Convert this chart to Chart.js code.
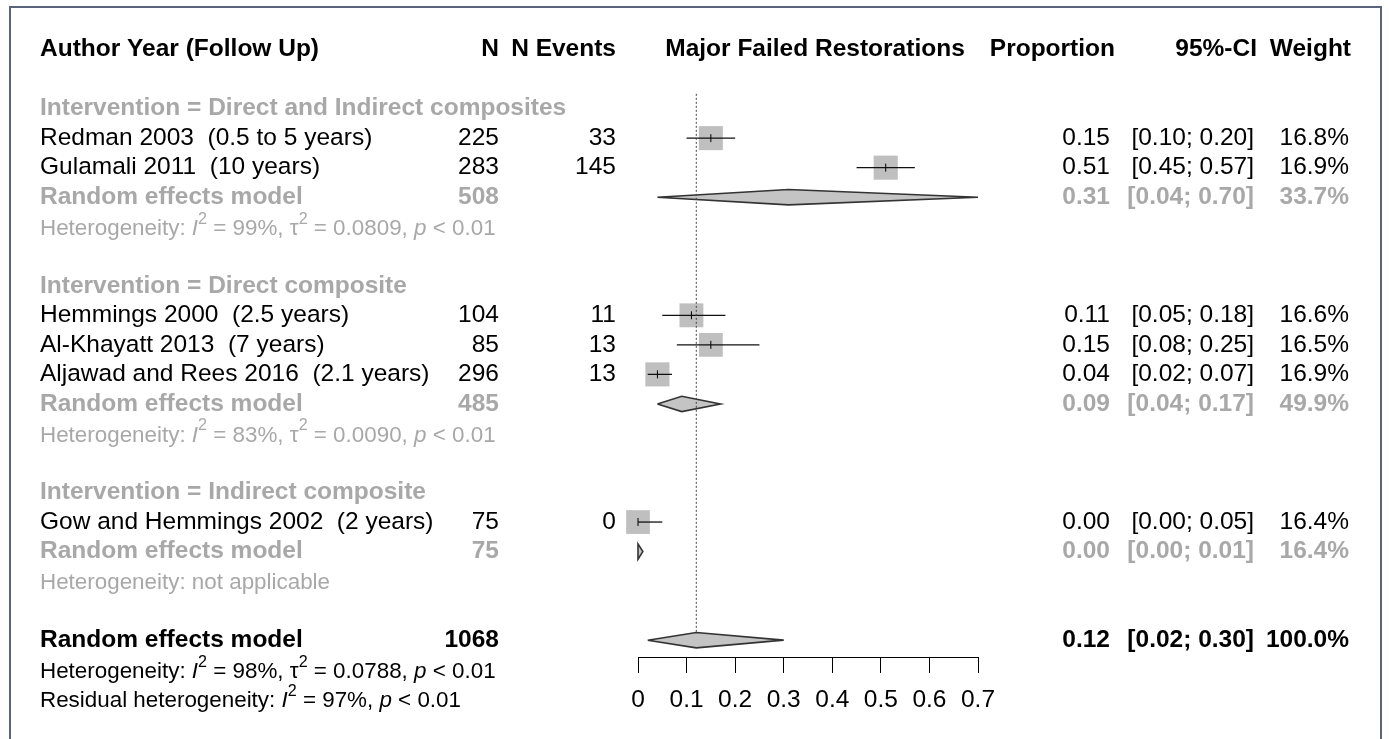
<!DOCTYPE html>
<html>
<head>
<meta charset="utf-8">
<script src="https://cdn.jsdelivr.net/npm/chart.js@4.4.1/dist/chart.umd.min.js"></script>
<style>
  html, body { margin: 0; padding: 0; background: #fff; }
  #wrap { position: relative; width: 1389px; height: 739px; }
</style>
</head>
<body>
<div id="wrap"><canvas id="forest" width="1389" height="739"></canvas></div>
<script>
// --- data ---
const studyLabels = ["Redman 2003  (0.5 to 5 years)", "Gulamali 2011  (10 years)", "Hemmings 2000  (2.5 years)",
  "Al-Khayatt 2013  (7 years)", "Aljawad and Rees 2016  (2.1 years)", "Gow and Hemmings 2002  (2 years)"];
const studyRows = [0, 1, 6, 7, 8, 13];
const studyN = [225, 283, 104, 85, 296, 75];
const studyEvents = [33, 145, 11, 13, 13, 0];
const studyEst = [0.15, 0.51, 0.11, 0.15, 0.04, 0.00];
const studyLower = [0.10, 0.45, 0.05, 0.08, 0.02, 0.00];
const studyUpper = [0.20, 0.57, 0.18, 0.25, 0.07, 0.05];
const studyWeight = [16.8, 16.9, 16.6, 16.5, 16.9, 16.4];

const groupLabels = ["Intervention = Direct and Indirect composites", "Intervention = Direct composite", "Intervention = Indirect composite"];
const groupRows = [-1, 5, 12];

const pooledRows = [2, 9, 14, 17];
const pooledN = [508, 485, 75, 1068];
const pooledEst = [0.31, 0.09, 0.00, 0.12];
const pooledLower = [0.04, 0.04, 0.00, 0.02];
const pooledUpper = [0.70, 0.17, 0.01, 0.30];
const pooledWeight = [33.7, 49.9, 16.4, 100.0];

const hetRows = [3, 10, 15, 18, 19];
const hetLines = [
  [["Heterogeneity: "], ["I", "it"], ["2", "sup"], [" = 99%, "], ["\u03C4"], ["2", "sup"], [" = 0.0809, "], ["p", "it"], [" < 0.01"]],
  [["Heterogeneity: "], ["I", "it"], ["2", "sup"], [" = 83%, "], ["\u03C4"], ["2", "sup"], [" = 0.0090, "], ["p", "it"], [" < 0.01"]],
  [["Heterogeneity: not applicable"]],
  [["Heterogeneity: "], ["I", "it"], ["2", "sup"], [" = 98%, "], ["\u03C4"], ["2", "sup"], [" = 0.0788, "], ["p", "it"], [" < 0.01"]],
  [["Residual heterogeneity: "], ["I", "it"], ["2", "sup"], [" = 97%, "], ["p", "it"], [" < 0.01"]]
];

const xTicks = [0, 0.1, 0.2, 0.3, 0.4, 0.5, 0.6, 0.7];
const xTickLabels = ["0", "0.1", "0.2", "0.3", "0.4", "0.5", "0.6", "0.7"];

// --- styling ---
const FONT = "'Liberation Sans', Arial, sans-serif";
const FS = 24.5;
const FS_HET = 22.4;
const GREY = "#a8a8a8";
const headerRow = -3;
const diamondH = 0.26;

const studyRadius = studyWeight.map(w => 17 * Math.sqrt(w / 16.8));

const datasets = [];

// dotted reference line at the overall estimate
datasets.push({
  type: "line",
  data: [{ x: pooledEst[3], y: -1.5 }, { x: pooledEst[3], y: pooledRows[3] - diamondH }],
  borderColor: "#444",
  borderWidth: 1,
  borderDash: [2, 2],
  pointRadius: 0,
  clip: false,
  order: 1
});

// point-estimate ticks
datasets.push({
  type: "scatter",
  data: studyEst.map((e, i) => ({ x: e, y: studyRows[i] })),
  pointStyle: "line",
  rotation: 90,
  pointRadius: 4,
  borderColor: "#000",
  borderWidth: 1,
  clip: false,
  order: 2
});

// confidence interval lines
studyRows.forEach((r, i) => {
  datasets.push({
    type: "line",
    data: [{ x: studyLower[i], y: r }, { x: studyUpper[i], y: r }],
    borderColor: "#111",
    borderWidth: 1.3,
    pointRadius: 0,
    clip: false,
    order: 3
  });
});

// pooled diamonds
pooledRows.forEach((r, i) => {
  datasets.push({
    type: "line",
    data: [
      { x: pooledLower[i], y: r },
      { x: pooledEst[i], y: r - diamondH },
      { x: pooledUpper[i], y: r },
      { x: pooledEst[i], y: r + diamondH },
      { x: pooledLower[i], y: r }
    ],
    fill: "shape",
    backgroundColor: "#c4c4c4",
    borderColor: "#333",
    borderWidth: 1.6,
    pointRadius: 0,
    tension: 0,
    clip: false,
    order: 4
  });
});

// study squares
datasets.push({
  type: "scatter",
  data: studyEst.map((e, i) => ({ x: e, y: studyRows[i] })),
  pointStyle: "rect",
  pointRadius: studyRadius,
  backgroundColor: "#bfbfbf",
  borderWidth: 0,
  clip: false,
  order: 5
});

function drawParts(ctx, x, y, parts, size, color) {
  let cx = x;
  ctx.fillStyle = color;
  ctx.textAlign = "left";
  ctx.textBaseline = "middle";
  parts.forEach(p => {
    const sup = p[1] === "sup";
    const s = sup ? size * 0.72 : size;
    ctx.font = (p[1] === "it" ? "italic " : "") + s + "px " + FONT;
    ctx.fillText(p[0], cx, sup ? y - size * 0.42 : y);
    cx += ctx.measureText(p[0]).width;
  });
}

function txt(ctx, s, x, y, align, bold, color, size) {
  ctx.font = (bold ? "bold " : "") + (size || FS) + "px " + FONT;
  ctx.fillStyle = color || "#000";
  ctx.textAlign = align;
  ctx.textBaseline = "middle";
  ctx.fillText(s, x, y);
}

const COL = { label: 40, n: 499, ev: 616, est: 1110, ci: 1254, w: 1349 };

const textPlugin = {
  id: "forestText",
  afterDraw(chart) {
    const ctx = chart.ctx;
    const ys = chart.scales.y;
    const Y = r => ys.getPixelForValue(r);
    ctx.save();

    // frame
    ctx.strokeStyle = "#59647a";
    ctx.lineWidth = 2;
    ctx.beginPath();
    ctx.moveTo(10, 745);
    ctx.lineTo(10, 7);
    ctx.lineTo(1381, 7);
    ctx.lineTo(1381, 745);
    ctx.stroke();

    // header
    const hy = Y(headerRow);
    txt(ctx, "Author Year (Follow Up)", COL.label, hy, "left", true);
    txt(ctx, "N", COL.n, hy, "right", true);
    txt(ctx, "N Events", COL.ev, hy, "right", true);
    txt(ctx, "Major Failed Restorations", 815, hy, "center", true);
    txt(ctx, "Proportion", 1115, hy, "right", true);
    txt(ctx, "95%-CI", 1257, hy, "right", true);
    txt(ctx, "Weight", 1351, hy, "right", true);

    groupLabels.forEach((g, i) => txt(ctx, g, COL.label, Y(groupRows[i]), "left", true, GREY));

    studyRows.forEach((r, i) => {
      const y = Y(r);
      txt(ctx, studyLabels[i], COL.label, y, "left", false);
      txt(ctx, String(studyN[i]), COL.n, y, "right", false);
      txt(ctx, String(studyEvents[i]), COL.ev, y, "right", false);
      txt(ctx, studyEst[i].toFixed(2), COL.est, y, "right", false);
      txt(ctx, "[" + studyLower[i].toFixed(2) + "; " + studyUpper[i].toFixed(2) + "]", COL.ci, y, "right", false);
      txt(ctx, studyWeight[i].toFixed(1) + "%", COL.w, y, "right", false);
    });

    pooledRows.forEach((r, i) => {
      const y = Y(r);
      const col = i === 3 ? "#000" : GREY;
      txt(ctx, "Random effects model", COL.label, y, "left", true, col);
      txt(ctx, String(pooledN[i]), COL.n, y, "right", true, col);
      txt(ctx, pooledEst[i].toFixed(2), COL.est, y, "right", true, col);
      txt(ctx, "[" + pooledLower[i].toFixed(2) + "; " + pooledUpper[i].toFixed(2) + "]", COL.ci, y, "right", true, col);
      txt(ctx, pooledWeight[i].toFixed(1) + "%", COL.w, y, "right", true, col);
    });

    hetRows.forEach((r, i) => {
      drawParts(ctx, COL.label, Y(r) + 2, hetLines[i], FS_HET, i < 3 ? GREY : "#000");
    });

    ctx.restore();
  }
};

new Chart(document.getElementById("forest"), {
  type: "scatter",
  data: { datasets },
  options: {
    responsive: false,
    animation: false,
    events: [],
    layout: { padding: { left: 638, right: 411, top: 20, bottom: 10.6 } },
    plugins: { legend: { display: false }, tooltip: { enabled: false } },
    scales: {
      x: {
        type: "linear",
        min: 0,
        max: 0.7,
        afterBuildTicks: s => { s.ticks = xTicks.map(v => ({ value: v })); },
        ticks: {
          callback: (v, i) => xTickLabels[i],
          color: "#000",
          font: { family: FONT, size: FS },
          padding: 13,
          maxRotation: 0,
          autoSkip: false
        },
        grid: { drawOnChartArea: false, drawTicks: true, tickLength: 16, color: "#000", lineWidth: 1 },
        border: { display: true, color: "#000", width: 1 }
      },
      y: {
        type: "linear",
        display: false,
        reverse: true,
        min: -4.0,
        max: 17.57
      }
    }
  },
  plugins: [textPlugin]
});
</script>
</body>
</html>
